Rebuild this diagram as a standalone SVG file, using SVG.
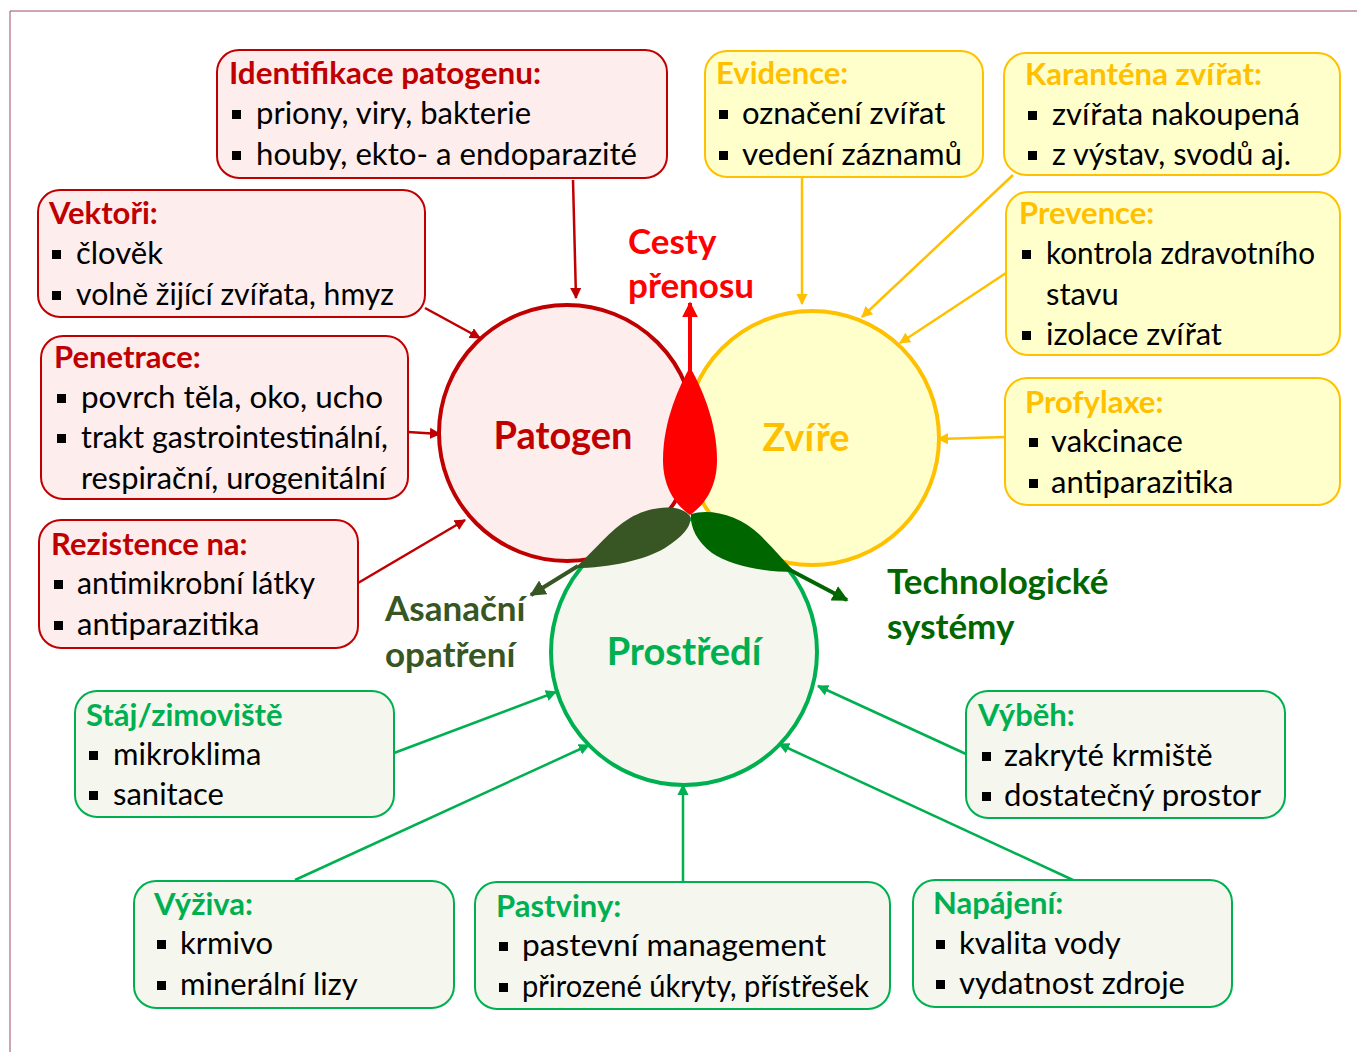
<svg xmlns="http://www.w3.org/2000/svg" width="1357" height="1052" viewBox="0 0 1357 1052">
<style>
text { font-family: Lato, "Open Sans", "DejaVu Sans", sans-serif; font-size: 31px; fill: #000; }
.h { font-weight: bold; }
.rbox { fill: #fdeded; stroke: #c00000; stroke-width: 2; }
.ybox { fill: #ffffcc; stroke: #ffc000; stroke-width: 2; }
.gbox { fill: #f5f7ee; stroke: #00b050; stroke-width: 2; }
.rt { fill: #c00000; }
.yt { fill: #ffc000; }
.gt { fill: #00b050; }
.b { fill: #000; }
.rc { stroke: #c00000; stroke-width: 2.5; fill: none; marker-end: url(#ar); }
.yc { stroke: #ffc000; stroke-width: 2.5; fill: none; marker-end: url(#ay); }
.gc { stroke: #00b050; stroke-width: 2.5; fill: none; marker-end: url(#ag); }
.big { font-size: 38px; font-weight: bold; }
.lbl { font-size: 35px; font-weight: bold; }
</style>
<defs>
<marker id="ar" viewBox="0 0 10 10" refX="9" refY="5" markerWidth="4.5" markerHeight="4.5" orient="auto" markerUnits="strokeWidth"><path d="M0,0 L10,5 L0,10 Z" fill="#c00000"/></marker>
<marker id="ay" viewBox="0 0 10 10" refX="9" refY="5" markerWidth="4.5" markerHeight="4.5" orient="auto" markerUnits="strokeWidth"><path d="M0,0 L10,5 L0,10 Z" fill="#ffc000"/></marker>
<marker id="ag" viewBox="0 0 10 10" refX="9" refY="5" markerWidth="4.5" markerHeight="4.5" orient="auto" markerUnits="strokeWidth"><path d="M0,0 L10,5 L0,10 Z" fill="#00b050"/></marker>
<marker id="aredbig" viewBox="0 0 10 10" refX="9" refY="5" markerWidth="4" markerHeight="4" orient="auto" markerUnits="strokeWidth"><path d="M0,0 L10,5 L0,10 Z" fill="#ff0000"/></marker>
<marker id="aolive" viewBox="0 0 10 10" refX="9" refY="5" markerWidth="4" markerHeight="4" orient="auto" markerUnits="strokeWidth"><path d="M0,0 L10,5 L0,10 Z" fill="#375623"/></marker>
<marker id="adg" viewBox="0 0 10 10" refX="9" refY="5" markerWidth="4" markerHeight="4" orient="auto" markerUnits="strokeWidth"><path d="M0,0 L10,5 L0,10 Z" fill="#006600"/></marker>
</defs>

<rect width="1357" height="1052" fill="#ffffff"/>
<path d="M10,1052 L10,11 L1357,11" fill="none" stroke="#9c4a6c" stroke-width="1"/>

<!-- central circles -->
<g id="prostredi">
<circle cx="684" cy="652" r="133" fill="#f5f7ee" stroke="#00b050" stroke-width="4"/>
</g>
<g id="patogen">
<circle cx="567" cy="433" r="128" fill="#fdeded" stroke="#c00000" stroke-width="4"/>
</g>
<g id="zvire">
<circle cx="812" cy="438" r="127" fill="#ffffcc" stroke="#ffc000" stroke-width="4"/>
</g>
<text x="563" y="449" text-anchor="middle" class="big rt">Patogen</text>
<text x="806" y="451" text-anchor="middle" class="big yt">Zvíře</text>
<text x="684" y="665" text-anchor="middle" class="big gt">Prostředí</text>

<!-- petals -->
<g id="cesty-prenosu">
<path d="M690,367 C700,385 717,420 717,460 C717,492 700,508 690,515 C680,508 663,492 663,460 C663,420 680,385 690,367 Z" fill="#ff0000"/>
<line x1="690" y1="433" x2="690" y2="303" stroke="#ff0000" stroke-width="4" marker-end="url(#aredbig)"/>
<text x="628" y="254" class="lbl" style="fill:#ff0000">Cesty</text>
<text x="628" y="298" class="lbl" style="fill:#ff0000">přenosu</text>
</g>
<g id="asanacni-opatreni">
<path d="M690,516 C680,503 650,506 630,518 C610,530 595,550 575,568 C610,568 645,560 665,548 C685,535 692,525 690,516 Z" fill="#375623"/>
<line x1="578" y1="566" x2="531" y2="595" stroke="#375623" stroke-width="4" marker-end="url(#aolive)"/>
<text x="385" y="621" class="lbl" style="fill:#375623">Asanační</text>
<text x="385" y="667" class="lbl" style="fill:#375623">opatření</text>
</g>
<g id="technologicke-systemy">
<path d="M691,514 C710,508 740,515 760,535 C775,550 785,562 795,572 C760,572 730,565 712,553 C695,540 690,525 691,514 Z" fill="#006600"/>
<line x1="790" y1="570" x2="847" y2="600" stroke="#006600" stroke-width="4" marker-end="url(#adg)"/>
<text x="887" y="594" class="lbl" style="fill:#006600">Technologické</text>
<text x="887" y="639" class="lbl" style="fill:#006600">systémy</text>
</g>

<!-- connectors -->
<g id="connectors">
<line x1="573" y1="180" x2="576" y2="298" class="rc"/>
<line x1="425" y1="308" x2="480" y2="338" class="rc"/>
<line x1="408" y1="432" x2="440" y2="434" class="rc"/>
<line x1="358" y1="583" x2="465" y2="520" class="rc"/>
<line x1="802" y1="177" x2="802" y2="304" class="yc"/>
<line x1="1013" y1="175" x2="862" y2="317" class="yc"/>
<line x1="1006" y1="273" x2="900" y2="343" class="yc"/>
<line x1="1005" y1="437" x2="938" y2="439" class="yc"/>
<line x1="394" y1="753" x2="556" y2="692" class="gc"/>
<line x1="295" y1="880" x2="589" y2="745" class="gc"/>
<line x1="683" y1="882" x2="683" y2="785" class="gc"/>
<line x1="1073" y1="880" x2="779" y2="744" class="gc"/>
<line x1="966" y1="754" x2="818" y2="686" class="gc"/>
</g>

<!-- red boxes -->
<g id="identifikace">
<rect x="217" y="50" width="450" height="128" rx="22" class="rbox"/>
<text x="229" y="84" class="h rt" textLength="312" lengthAdjust="spacingAndGlyphs">Identifikace patogenu:</text>
<rect x="232" y="110" width="9" height="9" class="b"/>
<text x="256" y="124">priony, viry, bakterie</text>
<rect x="232" y="151" width="9" height="9" class="b"/>
<text x="256" y="165" textLength="381" lengthAdjust="spacingAndGlyphs">houby, ekto- a endoparazité</text>
</g>
<g id="vektori">
<rect x="38" y="190" width="387" height="127" rx="22" class="rbox"/>
<text x="49" y="224" class="h rt">Vektoři:</text>
<rect x="52" y="250" width="9" height="9" class="b"/>
<text x="76" y="264">člověk</text>
<rect x="52" y="291" width="9" height="9" class="b"/>
<text x="76" y="305" textLength="318" lengthAdjust="spacingAndGlyphs">volně žijící zvířata, hmyz</text>
</g>
<g id="penetrace">
<rect x="41" y="336" width="367" height="163" rx="22" class="rbox"/>
<text x="54" y="368" class="h rt">Penetrace:</text>
<rect x="57" y="394" width="9" height="9" class="b"/>
<text x="81" y="408" textLength="302" lengthAdjust="spacingAndGlyphs">povrch těla, oko, ucho</text>
<rect x="57" y="434" width="9" height="9" class="b"/>
<text x="81" y="448" textLength="307" lengthAdjust="spacingAndGlyphs">trakt gastrointestinální,</text>
<text x="81" y="489" textLength="305" lengthAdjust="spacingAndGlyphs">respirační, urogenitální</text>
</g>
<g id="rezistence">
<rect x="39" y="520" width="319" height="128" rx="22" class="rbox"/>
<text x="51" y="555" class="h rt">Rezistence na:</text>
<rect x="54" y="580" width="9" height="9" class="b"/>
<text x="77" y="594" textLength="238" lengthAdjust="spacingAndGlyphs">antimikrobní látky</text>
<rect x="54" y="621" width="9" height="9" class="b"/>
<text x="77" y="635">antiparazitika</text>
</g>

<!-- yellow boxes -->
<g id="evidence">
<rect x="705" y="51" width="278" height="126" rx="22" class="ybox"/>
<text x="716" y="84" class="h yt">Evidence:</text>
<rect x="719" y="110" width="9" height="9" class="b"/>
<text x="742" y="124">označení zvířat</text>
<rect x="719" y="151" width="9" height="9" class="b"/>
<text x="742" y="165" textLength="220" lengthAdjust="spacingAndGlyphs">vedení záznamů</text>
</g>
<g id="karantena">
<rect x="1004" y="53" width="336" height="122" rx="22" class="ybox"/>
<text x="1025" y="85" class="h yt" textLength="237" lengthAdjust="spacingAndGlyphs">Karanténa zvířat:</text>
<rect x="1028" y="111" width="9" height="9" class="b"/>
<text x="1052" y="125" textLength="248" lengthAdjust="spacingAndGlyphs">zvířata nakoupená</text>
<rect x="1028" y="151" width="9" height="9" class="b"/>
<text x="1052" y="165" textLength="239" lengthAdjust="spacingAndGlyphs">z výstav, svodů aj.</text>
</g>
<g id="prevence">
<rect x="1006" y="192" width="334" height="163" rx="22" class="ybox"/>
<text x="1019" y="224" class="h yt">Prevence:</text>
<rect x="1022" y="250" width="9" height="9" class="b"/>
<text x="1046" y="264" textLength="269" lengthAdjust="spacingAndGlyphs">kontrola zdravotního</text>
<text x="1046" y="305">stavu</text>
<rect x="1022" y="331" width="9" height="9" class="b"/>
<text x="1046" y="345">izolace zvířat</text>
</g>
<g id="profylaxe">
<rect x="1005" y="378" width="335" height="127" rx="22" class="ybox"/>
<text x="1025" y="413" class="h yt">Profylaxe:</text>
<rect x="1029" y="438" width="9" height="9" class="b"/>
<text x="1051" y="452">vakcinace</text>
<rect x="1029" y="479" width="9" height="9" class="b"/>
<text x="1051" y="493">antiparazitika</text>
</g>

<!-- green boxes -->
<g id="staj">
<rect x="75" y="691" width="319" height="126" rx="22" class="gbox"/>
<text x="86" y="726" class="h gt">Stáj/zimoviště</text>
<rect x="89" y="751" width="9" height="9" class="b"/>
<text x="113" y="765">mikroklima</text>
<rect x="89" y="791" width="9" height="9" class="b"/>
<text x="113" y="805">sanitace</text>
</g>
<g id="vybeh">
<rect x="966" y="691" width="319" height="127" rx="22" class="gbox"/>
<text x="978" y="726" class="h gt">Výběh:</text>
<rect x="982" y="752" width="9" height="9" class="b"/>
<text x="1004" y="766">zakryté krmiště</text>
<rect x="982" y="792" width="9" height="9" class="b"/>
<text x="1004" y="806" textLength="257" lengthAdjust="spacingAndGlyphs">dostatečný prostor</text>
</g>
<g id="vyziva">
<rect x="134" y="881" width="320" height="127" rx="22" class="gbox"/>
<text x="154" y="915" class="h gt">Výživa:</text>
<rect x="157" y="940" width="9" height="9" class="b"/>
<text x="180" y="954">krmivo</text>
<rect x="157" y="981" width="9" height="9" class="b"/>
<text x="180" y="995">minerální lizy</text>
</g>
<g id="pastviny">
<rect x="475" y="882" width="415" height="127" rx="22" class="gbox"/>
<text x="496" y="917" class="h gt">Pastviny:</text>
<rect x="499" y="942" width="9" height="9" class="b"/>
<text x="522" y="956" textLength="304" lengthAdjust="spacingAndGlyphs">pastevní management</text>
<rect x="499" y="983" width="9" height="9" class="b"/>
<text x="522" y="997" textLength="347" lengthAdjust="spacingAndGlyphs">přirozené úkryty, přístřešek</text>
</g>
<g id="napajeni">
<rect x="913" y="880" width="319" height="127" rx="22" class="gbox"/>
<text x="933" y="914" class="h gt">Napájení:</text>
<rect x="936" y="940" width="9" height="9" class="b"/>
<text x="959" y="954">kvalita vody</text>
<rect x="936" y="980" width="9" height="9" class="b"/>
<text x="959" y="994" textLength="226" lengthAdjust="spacingAndGlyphs">vydatnost zdroje</text>
</g>
</svg>
